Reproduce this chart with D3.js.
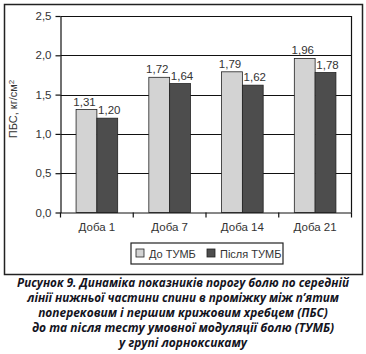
<!DOCTYPE html>
<html>
<head>
<meta charset="utf-8">
<script src="https://cdn.jsdelivr.net/npm/d3@7"></script>
<style>
  body { margin: 0; background: #fff; }
  text { font-family: "Liberation Sans", Arial, sans-serif; }
</style>
</head>
<body>
<div id="chart"></div>
<script>
const categories = ["Доба 1", "Доба 7", "Доба 14", "Доба 21"];
const seriesNames = ["До ТУМБ", "Після ТУМБ"];
const beforeValues = [1.31, 1.72, 1.79, 1.96];
const afterValues = [1.20, 1.64, 1.62, 1.78];
const yTicks = [0, 0.5, 1.0, 1.5, 2.0, 2.5];
const captionLines = [
    "Рисунок 9. Динаміка показників порогу болю по середній",
    "лінії нижньої частини спини в проміжку між п’ятим",
    "поперековим і першим крижовим хребцем (ПБС)",
    "до та після тесту умовної модуляції болю (ТУМБ)",
    "у групі лорноксикаму"
];
const colors = ["#d3d3d3", "#4d4d4d"];

const W = 366, H = 354;
// plot area
const margin = {top: 16, left: 60.5, right: 14.5, bottom: 141.5};
const width = W - margin.left - margin.right,
    height = H - margin.top - margin.bottom;

const root = d3.select("#chart")
    .append("svg")
        .attr("width", W)
        .attr("height", H);

// outer frame
root.append("rect")
    .attr("x", 4.5).attr("y", 4.5)
    .attr("width", 358).attr("height", 270)
    .attr("fill", "none")
    .attr("stroke", "#222")
    .attr("stroke-width", 1.5);

const svg = root.append("g")
    .attr("transform", `translate(${margin.left},${margin.top})`);

const x = d3.scaleBand()
    .domain(categories)
    .range([0, width]);

const xSub = d3.scaleBand()
    .domain(seriesNames)
    .range([0, 41.6])

const y = d3.scaleLinear()
    .domain([0, 2.5])
    .range([height, 0]);

// gridlines
svg.append("g")
    .selectAll("line")
    .data(yTicks.slice(1))
    .join("line")
        .attr("x1", 0).attr("x2", width)
        .attr("y1", d => Math.round(y(d)) + 0.5)
        .attr("y2", d => Math.round(y(d)) + 0.5)
        .attr("stroke", "#111")
        .attr("stroke-width", 1.2);

// right border of plot
svg.append("line")
    .attr("x1", width).attr("x2", width)
    .attr("y1", y(2.5)).attr("y2", height)
    .attr("stroke", "#111").attr("stroke-width", 1.2);

// bars
const data = categories.map((c, i) => ({cat: c, vals: [beforeValues[i], afterValues[i]]}));

const groups = svg.append("g")
    .selectAll("g")
    .data(data)
    .join("g")
        .attr("transform", d => `translate(${x(d.cat) + x.bandwidth() / 2 - 20.8},0)`);

groups.selectAll("rect")
    .data(d => d.vals.map((v, j) => ({key: seriesNames[j], v: v, j: j})))
    .join("rect")
        .attr("x", d => xSub(d.key))
        .attr("y", d => y(d.v))
        .attr("width", xSub.bandwidth())
        .attr("height", d => height - y(d.v))
        .attr("fill", d => colors[d.j])
        .attr("stroke", "#222")
        .attr("stroke-width", 0.8);

groups.selectAll("text.val")
    .data(d => d.vals.map((v, j) => ({key: seriesNames[j], v: v, j: j})))
    .join("text")
        .attr("class", "val")
        .attr("x", d => xSub(d.key) + xSub.bandwidth() / 2 + (d.j == 0 ? -2 : 2))
        .attr("y", d => y(d.v) - 4)
        .attr("text-anchor", "middle")
        .style("font-size", "11.5px")
        .attr("fill", "#333")
        .text(d => d.v.toFixed(2).replace(".", ","));

// Y axis
const yAxis = svg.append("g")
    .call(d3.axisLeft(y).tickValues(yTicks).tickSize(5).tickSizeOuter(0)
        .tickFormat(d => d.toFixed(1).replace(".", ",")));
yAxis.selectAll("text").style("font-size", "11.5px").attr("fill", "#333").attr("x", -9);
yAxis.selectAll("line").attr("stroke", "#111").attr("stroke-width", 1.2);
yAxis.select(".domain").attr("stroke", "#111").attr("stroke-width", 1.2);

// X axis
const xAxis = svg.append("g")
    .attr("transform", `translate(0,${height})`)
    .call(d3.axisBottom(x).tickSize(0).tickSizeOuter(0));
xAxis.selectAll("text").style("font-size", "11.5px").attr("fill", "#333").attr("dy", "1.35em");
xAxis.select(".domain").attr("stroke", "#111").attr("stroke-width", 1.2);

// tick marks between categories
svg.append("g")
    .selectAll("line")
    .data(categories.concat(["end"]))
    .join("line")
        .attr("x1", (d, i) => i * x.step())
        .attr("x2", (d, i) => i * x.step())
        .attr("y1", height).attr("y2", height + 5)
        .attr("stroke", "#111").attr("stroke-width", 1.2);

// Y label
const yLab = svg.append("text")
    .attr("transform", `translate(${17 - margin.left},${109 - margin.top}) rotate(-90)`)
    .attr("text-anchor", "middle")
    .style("font-size", "11px")
    .attr("fill", "#333");
yLab.append("tspan").text("ПБС, кг/см");
yLab.append("tspan").attr("dy", "-0.4em").style("font-size", "8px").text("2");

// Legend
const legend = root.append("g").attr("transform", "translate(131,243)");
legend.append("rect")
    .attr("x", 0).attr("y", 0)
    .attr("width", 152).attr("height", 21)
    .attr("fill", "none").attr("stroke", "#222").attr("stroke-width", 1.2);

const legendX = [5, 76];
const li = legend.selectAll("g.item")
    .data(seriesNames)
    .join("g")
        .attr("class", "item")
        .attr("transform", (d, i) => `translate(${legendX[i]},6)`);
li.append("rect")
    .attr("width", 8).attr("height", 8)
    .attr("fill", (d, i) => colors[i])
    .attr("stroke", "#222").attr("stroke-width", 0.8);
li.append("text")
    .attr("x", 13).attr("y", 8.5)
    .style("font-size", "11px")
    .attr("fill", "#333")
    .text(d => d);

// Caption: each line squeezed horizontally to the width it has in the print
const capY = [287, 302, 317, 332, 347];
const capW = [332, 312, 290, 304, 128];
root.append("g")
    .selectAll("text")
    .data(captionLines)
    .join("text")
        .attr("text-anchor", "middle")
        .style("font-family", "'Open Sans', 'Liberation Sans', sans-serif")
        .style("font-size", "12px")
        .style("font-weight", "bold")
        .style("font-style", "italic")
        .attr("fill", "#14141e")
        .text(d => d)
        .each(function(d, i) {
            const w = this.getComputedTextLength();
            const sx = Math.min(1, capW[i] / w);
            d3.select(this).attr("transform", `translate(${W / 2},${capY[i]}) scale(${sx},1)`);
        });
</script>
</body>
</html>
